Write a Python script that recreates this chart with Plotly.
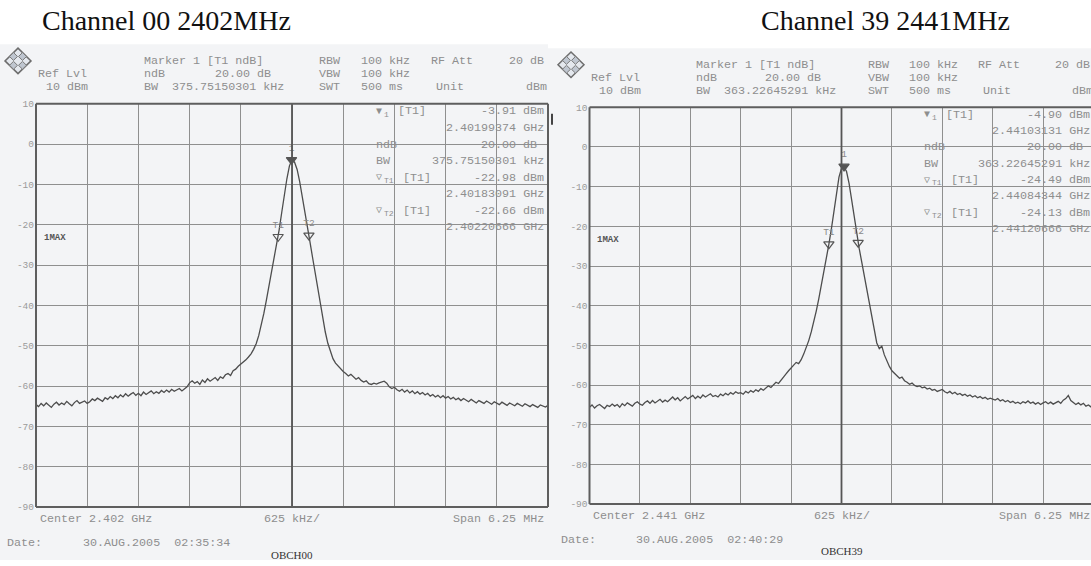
import numpy as np
import plotly.graph_objects as go

W, H = 1091, 566

# ---------------------------------------------------------------------------
# Spectrum analyser sweeps (201 points over the span, dBm)
# ---------------------------------------------------------------------------
SPAN_GHZ = 0.00625
N_POINTS = 201
y_ticks = [10, 0, -10, -20, -30, -40, -50, -60, -70, -80, -90]

ch00_center = 2.402
ch00_trace = [
    -64.6, -65.1, -64.3, -64.9, -64.2, -64.8, -65.3, -64.5, -64.0, -64.7,
    -64.2, -64.6, -63.8, -64.4, -64.9, -64.1, -63.6, -64.3, -64.0, -63.7,
    -64.3, -63.9, -63.2, -63.6, -63.0, -63.5, -63.8, -62.9, -63.3, -62.6,
    -63.1, -62.4, -62.9, -62.2, -62.7, -61.9, -62.5, -62.0, -61.6, -62.3,
    -61.8, -62.4, -61.5, -62.1, -61.7, -61.2, -61.9, -61.4, -61.8, -61.1,
    -61.6, -61.0, -61.5, -60.8, -61.3, -61.0, -60.6, -61.2, -60.7, -60.2,
    -59.2, -58.7, -59.3, -58.9, -59.6, -58.5, -59.1, -58.2, -58.8, -58.4,
    -57.9, -58.6, -57.7, -58.1, -57.2, -56.9, -57.4, -56.2, -55.8, -55.1,
    -54.6, -54.1, -53.5, -52.8, -52.0, -50.9, -49.5, -47.5, -45.0, -42.0,
    -38.7, -35.3, -31.8, -28.5, -25.2, -21.2, -16.9, -12.6, -8.6, -5.4,
    -3.91,
    -4.5, -6.3, -9.3, -12.8, -16.6, -20.4, -24.2, -28.0, -31.8, -35.6,
    -39.5, -43.2, -46.6, -49.4, -51.6, -53.2, -54.3, -55.0, -55.8, -56.4,
    -56.9, -57.5, -57.1, -57.8, -58.3, -57.9, -58.6, -59.0, -58.7, -59.4,
    -59.6, -59.3, -59.5, -59.2, -59.0, -58.8, -59.3, -60.2, -60.6, -60.3,
    -60.9, -61.3, -60.8, -61.5, -61.0, -61.7, -61.2, -61.9, -61.4, -62.0,
    -61.6, -62.2, -61.8, -62.5, -62.1, -62.7, -62.3, -62.9, -62.4, -63.0,
    -62.6, -63.2, -62.8, -63.4, -63.0, -63.6, -63.1, -63.5, -63.9, -63.3,
    -63.8, -64.2, -63.6, -63.9, -64.3, -63.7, -64.1, -64.5, -63.9, -64.2,
    -64.6, -64.0, -64.4, -64.8, -64.2, -64.5, -64.9, -64.3, -64.7, -65.0,
    -64.4, -64.8, -65.1, -64.6, -64.9, -65.3, -64.7, -65.0, -65.2, -64.8,
]
ch00_marker_freq = [2.40199374, 2.40183091, 2.40220666]
ch00_marker_level = [-3.91, -22.98, -22.66]
ch00_bw_khz = "375.75150301"
ch00_date = "30.AUG.2005  02:35:34"
ch00_tag = "OBCH00"

ch39_center = 2.441
ch39_trace = [
    -65.6, -65.0, -65.8, -65.2, -64.9, -65.5, -65.9, -65.1, -65.4, -64.8,
    -65.3, -64.9, -65.6, -64.7, -65.2, -64.5, -64.9, -65.3, -64.6, -64.2,
    -64.8, -65.1, -64.4, -64.0, -64.6, -63.9, -64.5, -64.1, -63.6, -64.3,
    -63.8, -64.2, -63.5, -63.0, -63.7, -63.2, -64.0, -63.4, -62.9, -63.5,
    -63.1, -62.6, -63.4, -62.8, -63.3, -62.5, -63.0, -62.7, -62.2, -62.9,
    -62.6, -63.0, -62.3, -62.7, -62.1, -62.5, -61.9, -62.3, -61.7, -62.1,
    -61.9, -62.3, -61.6, -62.0, -61.4, -61.8, -61.2, -61.6, -60.9, -61.3,
    -60.7, -60.2, -60.6, -59.8, -59.3, -59.6, -58.7, -58.1, -57.2, -56.4,
    -55.6, -55.1, -54.3, -54.6, -53.6, -52.2, -50.6, -48.8, -46.6, -44.1,
    -41.3, -38.2, -34.9, -31.5, -28.0, -24.5, -20.6, -16.2, -11.5, -7.6,
    -5.4,
    -4.95, -6.2, -9.2, -13.2, -17.6, -22.0, -25.5, -28.9, -32.4, -36.0,
    -39.7, -43.3, -46.8, -49.4, -50.8, -50.2, -52.4, -54.1, -55.3, -56.4,
    -57.1, -57.6, -58.3, -58.0, -58.9, -59.3, -59.8, -59.5, -60.1, -60.4,
    -60.2, -60.7, -60.5, -61.0, -60.8, -61.3, -61.1, -61.6, -61.4, -61.1,
    -61.7, -62.0, -61.6, -62.2, -61.8, -62.4, -62.1, -62.6, -62.3, -62.8,
    -62.5, -63.0, -62.7, -63.2, -62.9, -63.4, -63.1, -63.6, -63.3, -63.5,
    -63.8, -63.4, -64.0, -63.7, -64.2, -63.9, -64.4, -64.1, -64.6, -64.3,
    -64.7, -64.2, -64.5, -64.0, -64.6, -64.3, -64.8, -64.4, -64.9, -64.5,
    -64.2, -64.7, -64.3, -64.8, -64.5, -64.1, -64.6, -63.8, -63.4, -62.6,
    -63.9, -64.4, -64.9, -64.5, -65.0, -64.6, -65.3, -65.0, -65.5, -65.2,
]
ch39_marker_freq = [2.44103131, 2.44084344, 2.44120666]
ch39_marker_level = [-4.90, -24.49, -24.13]
ch39_bw_khz = "363.22645291"
ch39_date = "30.AUG.2005  02:40:29"
ch39_tag = "OBCH39"

marker_names = ["1", "T1", "T2"]

# ---------------------------------------------------------------------------
# Styling
# ---------------------------------------------------------------------------
MONO = "Liberation Mono, Courier New, monospace"
SERIF = "Liberation Serif, Times New Roman, serif"
TXT = "#8e8e8e"
GRID = "#8f8f8f"
FRAME = "#5e5e5e"
TRACE = "#4d4d4d"
SCREEN_BG = "#f3f4f6"
MONO_SIZE = 11.7

fig = go.Figure()
annotations = []
shapes = []


def px_x(x):
    return x / W


def px_y(y):
    return 1 - y / H


def text(x, y, s, anchor="left", size=MONO_SIZE, color=TXT, family=MONO):
    annotations.append(dict(
        x=px_x(x), y=px_y(y), xref="paper", yref="paper", text=s,
        showarrow=False, xanchor=anchor, yanchor="middle", borderpad=0,
        font=dict(family=family, size=size, color=color)))


def fmt_level(v):
    return f"{v:.2f} dBm"


def fmt_freq(f):
    return f"{f:.8f} GHz"


def add_panel(n, center, trace_vals, mk_freq, mk_level, bw, date, tag,
              box, title, title_x, logo_c, visible_x1):
    """box = (left, top, right, bottom) of the full 10x10 grid in pixels."""
    left, top, right, bottom = box
    sx = (right - left) / 512.0
    sy = (bottom - top) / 411.3

    def X(x):  # layout helper relative to the first screen's grid geometry
        return left + (x - 36) * sx

    def Y(y):
        return top + (y - 100.7) * sy

    xa = "xaxis" if n == 1 else f"xaxis{n}"
    ya = "yaxis" if n == 1 else f"yaxis{n}"
    xr = "x" if n == 1 else f"x{n}"
    yr = "y" if n == 1 else f"y{n}"

    f0 = center - SPAN_GHZ / 2
    freqs = np.linspace(f0, center + SPAN_GHZ / 2, N_POINTS)
    x1_px = min(right, visible_x1)
    f1 = f0 + SPAN_GHZ * (x1_px - left) / (right - left)

    fig.add_trace(go.Scatter(
        x=freqs, y=trace_vals, mode="lines", xaxis=xr, yaxis=yr,
        line=dict(color=TRACE, width=1.3), hoverinfo="skip", showlegend=False))

    # markers: filled for the reference marker, open for the ndB markers
    fig.add_trace(go.Scatter(
        x=mk_freq, y=mk_level, mode="markers+text", xaxis=xr, yaxis=yr,
        text=marker_names, textposition="top center",
        textfont=dict(family=MONO, size=9.5, color="#8a8a8a"),
        marker=dict(symbol=["triangle-down", "triangle-down-open", "triangle-down-open"],
                    size=9, color="#555555", line=dict(color="#555555", width=1.2)),
        hoverinfo="skip", showlegend=False, cliponaxis=False))

    fig.update_layout({
        xa: dict(domain=[px_x(left), px_x(x1_px)], range=[f0, f1],
                 tick0=center, dtick=SPAN_GHZ / 10, showgrid=True,
                 gridcolor=GRID, gridwidth=1, zeroline=False,
                 showticklabels=False, ticks="", showline=False,
                 anchor=yr, fixedrange=True),
        ya: dict(domain=[px_y(bottom), px_y(top)], range=[-90, 10],
                 tickvals=y_ticks, ticktext=[str(v) for v in y_ticks],
                 showgrid=True, gridcolor=GRID, gridwidth=1, zeroline=False,
                 tickfont=dict(family=MONO, size=9.5, color="#9a9a9a"),
                 ticks="", ticklabelstandoff=1, showline=False,
                 anchor=xr, fixedrange=True),
    })

    # centre line and frame
    shapes.append(dict(type="line", xref=xr, yref=f"{yr} domain",
                       x0=center, x1=center, y0=0, y1=1,
                       line=dict(color="#555555", width=1.8)))
    for (a, b, c, d) in [(left, top, x1_px, top), (left, bottom, x1_px, bottom),
                         (left, top, left, bottom)]:
        shapes.append(dict(type="line", xref="paper", yref="paper",
                           x0=px_x(a), y0=px_y(b), x1=px_x(c), y1=px_y(d),
                           line=dict(color=FRAME, width=2)))
    if right <= visible_x1:
        shapes.append(dict(type="line", xref="paper", yref="paper",
                           x0=px_x(right), y0=px_y(top), x1=px_x(right), y1=px_y(bottom),
                           line=dict(color=FRAME, width=2)))

    # title above the screen
    text(title_x, 16, title, anchor="center", size=28, color="#111111", family=SERIF)

    # instrument logo
    cx, cy = logo_c
    r = 13
    shapes.append(dict(type="path", xref="paper", yref="paper",
                       path=f"M {px_x(cx)},{px_y(cy - r)} L {px_x(cx + r)},{px_y(cy)} "
                            f"L {px_x(cx)},{px_y(cy + r)} L {px_x(cx - r)},{px_y(cy)} Z",
                       fillcolor="#e4e8ee", line=dict(color="#6d6d6d", width=1.5)))
    for ddx, ddy in [(-5, -5), (5, 5), (5, -5), (-5, 5)]:
        rr = 4
        qx, qy = cx + ddx * 0.9, cy + ddy * 0.9
        shapes.append(dict(type="path", xref="paper", yref="paper",
                           path=f"M {px_x(qx)},{px_y(qy - rr)} L {px_x(qx + rr)},{px_y(qy)} "
                                f"L {px_x(qx)},{px_y(qy + rr)} L {px_x(qx - rr)},{px_y(qy)} Z",
                           fillcolor="#bfc6d0", line=dict(color="#7a7a7a", width=1)))

    # header block
    r1, r2, r3 = Y(57), Y(70.5), Y(84)
    text(X(143), r1, "Marker 1 [T1 ndB]")
    text(X(318), r1, "RBW")
    text(X(360), r1, "100 kHz")
    text(X(430), r1, "RF Att")
    text(X(545), r1, "20 dB", anchor="right")
    text(X(37), r2, "Ref Lvl")
    text(X(143), r2, "ndB")
    text(X(272), r2, "20.00 dB", anchor="right")
    text(X(318), r2, "VBW")
    text(X(360), r2, "100 kHz")
    text(X(45), r3, "10 dBm")
    text(X(143), r3, f"BW  {bw} kHz")
    text(X(318), r3, "SWT")
    text(X(360), r3, "500 ms")
    text(X(435), r3, "Unit")
    text(X(525), r3, "dBm")

    # marker table inside the screen: (symbol, index, trace tag, value)
    rows = [
        ("\u25bc", "1", "[T1]", fmt_level(mk_level[0])),
        ("", "", "", fmt_freq(mk_freq[0])),
        ("ndB", "", "", "20.00 dB\u00a0"),
        ("BW", "", "", f"{bw} kHz"),
        ("\u25bd", "T1", "[T1]", fmt_level(mk_level[1])),
        ("", "", "", fmt_freq(mk_freq[1])),
        ("\u25bd", "T2", "[T1]", fmt_level(mk_level[2])),
        ("", "", "", fmt_freq(mk_freq[2])),
    ]
    for k, (sym, idx, tr, val) in enumerate(rows):
        yy = Y(108.5 + 16.9 * k)
        if sym:
            text(X(375), yy, sym, size=10 if idx else MONO_SIZE)
        if idx:
            text(X(383), yy + 3, idx, size=8)
            text(X(397 if len(idx) == 1 else 402), yy, tr)
        text(X(545), yy, val, anchor="right")

    text(X(43), Y(238), "<b>1MAX</b>", size=9, color="#555555")

    # footer
    text(X(39), Y(524), f"Center {center:.3f} GHz")
    text(X(292), Y(524), "625 kHz/", anchor="center")
    text(X(545), Y(524), "Span 6.25 MHz", anchor="right")
    text(X(6), Y(549), "Date:")
    text(X(82), Y(549), date)
    text(X(292), Y(561), tag, anchor="center", size=11, color="#333333", family=SERIF)


# screen backgrounds
shapes.append(dict(type="rect", xref="paper", yref="paper", layer="below",
                   x0=0, x1=px_x(548), y0=0, y1=px_y(40),
                   fillcolor=SCREEN_BG, line=dict(width=0)))
shapes.append(dict(type="rect", xref="paper", yref="paper", layer="below",
                   x0=px_x(548), x1=1, y0=0, y1=px_y(44),
                   fillcolor=SCREEN_BG, line=dict(width=0)))

add_panel(1, ch00_center, ch00_trace, ch00_marker_freq, ch00_marker_level,
          ch00_bw_khz, ch00_date, ch00_tag,
          box=(36, 100.7, 548, 512), title="Channel 00 2402MHz", title_x=166,
          logo_c=(18, 57), visible_x1=W)
add_panel(2, ch39_center, ch39_trace, ch39_marker_freq, ch39_marker_level,
          ch39_bw_khz, ch39_date, ch39_tag,
          box=(589.5, 104.3, 1093.5, 509), title="Channel 39 2441MHz", title_x=885,
          logo_c=(571, 61), visible_x1=W)

# small bar at the edge of the first screen
shapes.append(dict(type="line", xref="paper", yref="paper",
                   x0=px_x(552), x1=px_x(552), y0=px_y(111), y1=px_y(122),
                   line=dict(color="#444444", width=2)))

fig.update_layout(
    width=W, height=H, margin=dict(l=0, r=0, t=0, b=0),
    paper_bgcolor="white", plot_bgcolor="rgba(0,0,0,0)",
    annotations=annotations, shapes=shapes, showlegend=False,
)

fig.write_html("out.html", config={"displayModeBar": False})
